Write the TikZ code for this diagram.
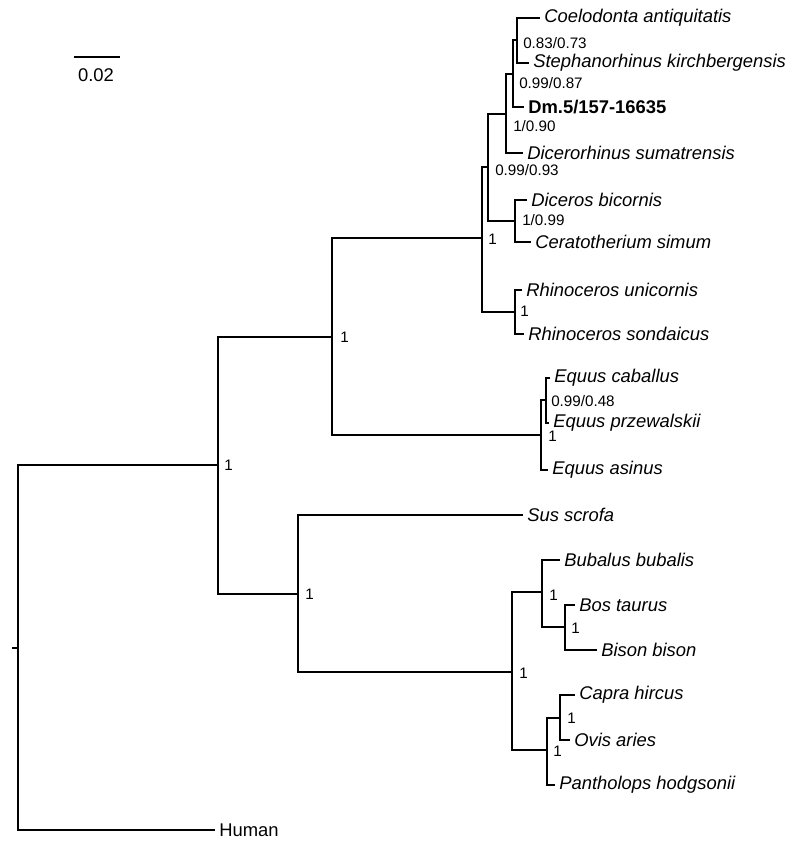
\documentclass[tikz,border=0pt]{standalone}
\usepackage{fontspec}
\setmainfont{Liberation Sans}
\begin{document}
\begin{tikzpicture}
      [x = 0.75pt, y = -0.75pt,
      branch/.style={line width = 0.9pt},
      taxon/.style= {
         anchor = west,
         inner xsep = 3pt,
         inner ysep = 0pt,
         font = \fontsize{13.8}{15}\selectfont\itshape
      },
      support/.style= {
         anchor = west,
         inner sep = 0pt,
         font = \fontsize{11.4}{13}\selectfont
      }]
      \useasboundingbox (0, 0) rectangle (800, 850);

      % scale bar
      \draw[branch] (74, 57) -- (120, 57);
      \node[support, anchor = center, font = \fontsize{13.8}{15}\selectfont] (scale) at (96, 75) {0.02};

      % internal nodes
      \coordinate (nA) at (517, 40);
      \coordinate (nB) at (513, 74);
      \coordinate (nC) at (506, 114);
      \coordinate (nD) at (515, 221);
      \coordinate (nE) at (488, 167);
      \coordinate (nF) at (515, 312);
      \coordinate (nG) at (482, 238);
      \coordinate (nH) at (546, 400);
      \coordinate (nI) at (541, 435);
      \coordinate (nJ) at (332, 337);
      \coordinate (nK) at (565, 627);
      \coordinate (nL) at (542, 592);
      \coordinate (nM) at (560, 718);
      \coordinate (nN) at (547, 750);
      \coordinate (nO) at (512, 672);
      \coordinate (nP) at (298, 594);
      \coordinate (nQ) at (218, 465);
      \coordinate (root) at (18, 648);
      \coordinate (tick) at (12, 648);

      % taxa
      \node[taxon] (coel) at (540, 18) {Coelodonta antiquitatis};
      \node[taxon] (steph) at (529, 63) {Stephanorhinus kirchbergensis};
      \node[taxon, font = \fontsize{13.8}{15}\selectfont\bfseries] (dm) at (524, 107) {Dm.5/157-16635};
      \node[taxon] (dsum) at (523, 153) {Dicerorhinus sumatrensis};
      \node[taxon] (dbic) at (527, 200) {Diceros bicornis};
      \node[taxon] (csim) at (531, 242) {Ceratotherium simum};
      \node[taxon] (runi) at (522, 290) {Rhinoceros unicornis};
      \node[taxon] (rson) at (524, 334) {Rhinoceros sondaicus};
      \node[taxon] (ecab) at (550, 378) {Equus caballus};
      \node[taxon] (eprz) at (549, 423) {Equus przewalskii};
      \node[taxon] (easi) at (548, 470) {Equus asinus};
      \node[taxon] (sus) at (523, 515) {Sus scrofa};
      \node[taxon] (bub) at (560, 560) {Bubalus bubalis};
      \node[taxon] (bos) at (575, 605) {Bos taurus};
      \node[taxon] (bison) at (597, 650) {Bison bison};
      \node[taxon] (capra) at (575, 695) {Capra hircus};
      \node[taxon] (ovis) at (570, 740) {Ovis aries};
      \node[taxon] (panth) at (555, 785) {Pantholops hodgsonii};
      \node[taxon, font = \fontsize{13.8}{15}\selectfont] (human) at (215, 830) {Human};

      % terminal branches
      \draw[branch] (coel.west) -| (nA) |- (steph.west);
      \draw[branch] (nA) -| (nB) |- (dm.west);
      \draw[branch] (nB) -| (nC) |- (dsum.west);
      \draw[branch] (dbic.west) -| (nD) |- (csim.west);
      \draw[branch] (nC) -| (nE) |- (nD);
      \draw[branch] (runi.west) -| (nF) |- (rson.west);
      \draw[branch] (nE) -| (nG) |- (nF);
      \draw[branch] (ecab.west) -| (nH) |- (eprz.west);
      \draw[branch] (nH) -| (nI) |- (easi.west);
      \draw[branch] (nG) -| (nJ) |- (nI);
      \draw[branch] (bos.west) -| (nK) |- (bison.west);
      \draw[branch] (bub.west) -| (nL) |- (nK);
      \draw[branch] (capra.west) -| (nM) |- (ovis.west);
      \draw[branch] (nM) -| (nN) |- (panth.west);
      \draw[branch] (nL) -| (nO) |- (nN);
      \draw[branch] (sus.west) -| (nP) |- (nO);
      \draw[branch] (nJ) -| (nQ) |- (nP);
      \draw[branch] (nQ) -| (root) |- (human.west);
      \draw[branch] (tick) -- (root);

      % support values
      \node[support] (sA) at (523, 43) {0.83/0.73};
      \node[support] (sB) at (519, 83) {0.99/0.87};
      \node[support] (sC) at (513, 126) {1/0.90};
      \node[support] (sE) at (495, 170) {0.99/0.93};
      \node[support] (sD) at (522, 220) {1/0.99};
      \node[support] (sG) at (488, 239) {1};
      \node[support] (sF) at (520, 311) {1};
      \node[support] (sJ) at (340, 337) {1};
      \node[support] (sH) at (551, 401) {0.99/0.48};
      \node[support] (sI) at (548, 436) {1};
      \node[support] (sQ) at (224, 465) {1};
      \node[support] (sP) at (305, 594) {1};
      \node[support] (sL) at (549, 595) {1};
      \node[support] (sK) at (571, 628) {1};
      \node[support] (sO) at (519, 673) {1};
      \node[support] (sM) at (567, 718) {1};
      \node[support] (sN) at (553, 751) {1};
\end{tikzpicture}
\end{document}
